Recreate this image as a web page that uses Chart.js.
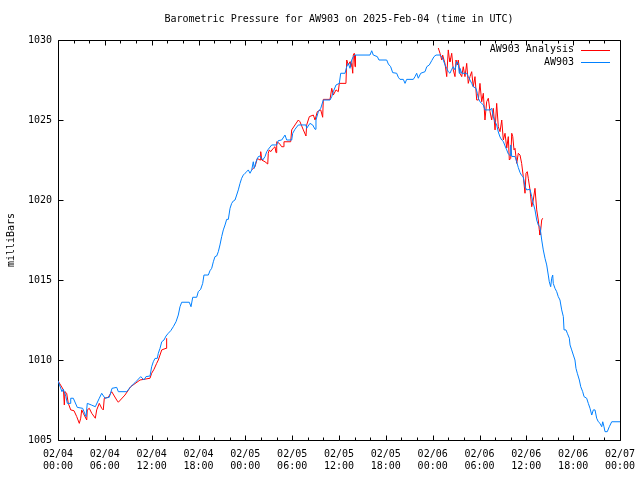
<!DOCTYPE html>
<html>
<head>
<meta charset="utf-8">
<script src="https://cdn.jsdelivr.net/npm/chart.js@4.4.1/dist/chart.umd.min.js"></script>
<style>
html,body{margin:0;padding:0;background:#fff;}
canvas{display:block;}
</style>
</head>
<body>
<canvas id="c" width="640" height="480"></canvas>
<script>
// ---- data (hours after 2025-02-04 00:00 UTC, pressure in mb) ----
const chartTitle = 'Barometric Pressure for AW903 on 2025-Feb-04 (time in UTC)';
const yAxisTitle = 'milliBars';
const seriesNames = ['AW903 Analysis', 'AW903'];

const xTickHours = [0, 6, 12, 18, 24, 30, 36, 42, 48, 54, 60, 66, 72];
const xTickDates = ['02/04','02/04','02/04','02/04','02/05','02/05','02/05','02/05','02/06','02/06','02/06','02/06','02/07'];
const xTickTimes = ['00:00','06:00','12:00','18:00','00:00','06:00','12:00','18:00','00:00','06:00','12:00','18:00','00:00'];
const yTickValues = [1005, 1010, 1015, 1020, 1025, 1030];

const aw903Hours = [
  0.00,0.51,0.68,1.02,1.19,1.54,1.63,1.96,2.47,3.16,
  3.59,3.75,4.27,4.78,5.29,5.60,6.02,6.57,6.92,7.52,
  7.73,8.80,9.31,9.86,10.60,11.02,11.27,11.79,12.00,12.21,
  12.43,12.72,12.85,13.07,13.29,13.58,13.84,14.13,14.44,14.77,
  15.12,15.41,15.63,15.85,16.82,17.04,17.26,17.77,17.97,18.28,
  18.54,18.70,19.26,19.47,19.69,19.90,20.11,20.33,20.54,20.75,
  20.97,21.18,21.40,21.61,21.82,22.04,22.25,22.46,22.68,22.89,
  23.10,23.32,23.53,23.74,23.96,24.18,24.38,24.60,24.82,25.02,
  25.15,25.37,25.66,25.88,26.23,26.52,26.74,26.94,27.38,28.02,
  28.22,28.66,29.08,29.30,29.94,30.07,30.36,30.79,31.77,31.86,
  32.28,32.63,32.93,33.05,33.35,33.66,33.99,34.85,35.07,35.27,
  35.62,36.04,36.22,36.77,36.99,37.19,37.41,37.63,37.83,38.05,
  39.97,40.19,40.39,40.91,41.12,42.11,42.32,42.62,42.88,43.39,
  43.60,43.81,44.24,44.46,44.67,45.52,45.74,45.95,46.16,46.47,
  47.02,47.24,47.57,47.88,48.17,48.43,48.94,49.16,49.36,49.58,
  49.80,50.00,50.22,50.44,50.64,50.86,51.08,51.28,51.41,51.50,
  51.72,52.36,52.56,52.78,53.00,53.20,53.55,53.72,53.85,54.06,
  54.28,54.49,54.70,55.35,55.56,55.77,55.99,56.20,56.41,56.63,
  56.85,57.05,57.27,57.49,57.69,57.91,58.00,58.13,58.55,58.77,
  58.97,59.19,59.40,59.61,59.83,60.05,60.47,60.69,60.89,61.11,
  61.33,61.53,61.75,61.97,62.17,62.39,62.61,62.81,62.94,63.12,
  63.25,63.38,63.45,63.67,63.89,64.09,64.31,64.53,64.74,64.83,
  65.08,65.25,65.51,65.60,65.81,66.02,66.23,66.36,66.53,66.79,
  66.97,67.22,67.39,67.73,67.94,68.16,68.38,68.58,68.80,69.01,
  69.22,69.44,69.66,69.79,69.95,70.08,70.37,70.63,70.94,72.00
];
const aw903Mb = [
  1008.70,1008.02,1008.17,1007.71,1007.29,1007.29,1007.61,1007.61,1007.04,1006.98,
  1006.46,1007.29,1007.19,1007.08,1007.61,1007.92,1007.61,1007.67,1008.23,1008.29,
  1008.02,1008.02,1008.33,1008.58,1008.96,1008.75,1008.96,1009.00,1009.58,1009.89,
  1010.10,1010.10,1010.42,1010.73,1011.14,1011.25,1011.50,1011.67,1011.83,1012.08,
  1012.39,1012.81,1013.33,1013.61,1013.61,1013.33,1013.92,1013.92,1014.27,1014.42,
  1014.79,1015.31,1015.31,1015.58,1015.73,1016.14,1016.46,1016.50,1016.77,1017.19,
  1017.71,1018.13,1018.44,1018.79,1018.79,1019.48,1019.79,1019.94,1020.00,1020.31,
  1020.63,1021.04,1021.36,1021.56,1021.67,1021.77,1021.88,1021.67,1021.88,1022.39,
  1021.98,1022.39,1022.71,1022.75,1022.50,1022.71,1023.02,1023.17,1023.44,1023.44,
  1023.71,1023.75,1024.06,1023.75,1023.75,1024.17,1024.42,1024.69,1024.69,1024.48,
  1024.79,1024.69,1024.42,1025.00,1025.52,1025.73,1026.25,1026.25,1026.46,1026.77,
  1027.19,1027.29,1027.92,1027.92,1028.33,1028.54,1028.23,1028.75,1028.96,1029.06,
  1029.06,1029.33,1029.06,1028.96,1028.75,1028.75,1028.50,1028.33,1027.96,1027.92,
  1027.67,1027.54,1027.54,1027.29,1027.54,1027.54,1027.71,1027.92,1027.61,1027.92,
  1028.02,1028.33,1028.44,1028.71,1028.96,1029.06,1029.06,1028.96,1028.75,1028.44,
  1028.23,1028.02,1027.92,1028.17,1028.33,1028.13,1028.64,1028.54,1027.92,1028.23,
  1027.92,1027.92,1027.71,1027.50,1027.29,1027.08,1026.98,1026.67,1026.36,1026.14,
  1026.04,1025.94,1025.63,1025.63,1025.73,1025.21,1024.89,1024.69,1024.25,1023.94,
  1023.75,1023.66,1023.38,1023.13,1022.88,1022.78,1023.44,1022.72,1022.72,1022.38,
  1022.03,1021.72,1021.53,1021.44,1020.83,1020.63,1020.67,1020.21,1019.79,1019.38,
  1018.75,1018.44,1018.33,1017.50,1016.88,1016.36,1015.94,1015.31,1014.89,1014.58,
  1015.11,1015.31,1014.79,1014.48,1014.27,1013.96,1013.75,1013.13,1012.71,1011.88,
  1011.88,1011.67,1011.36,1010.94,1010.63,1010.31,1010.00,1009.48,1009.17,1008.75,
  1008.33,1008.02,1007.71,1007.61,1007.29,1006.98,1006.56,1006.88,1006.88,1006.36,
  1006.14,1006.04,1005.83,1006.14,1005.83,1005.52,1005.52,1005.83,1006.14,1006.14
];

// analysis series: null marks a gap between analysis runs
const analysisHours = [
  0.00,0.70,0.81,0.90,1.11,1.32,1.63,2.05,2.40,2.73,
  2.91,3.04,3.24,3.68,3.75,4.01,4.32,4.78,4.96,5.29,
  5.60,5.80,5.93,6.44,6.88,7.52,7.73,8.58,9.31,10.51,
  11.79,12.00,12.30,12.64,12.85,13.29,13.84,13.92,
  19.00,
  24.82,25.24,25.53,25.88,25.97,26.10,26.52,26.87,26.94,27.07,
  27.25,27.58,27.80,27.93,28.02,28.35,28.66,28.86,28.95,29.81,
  29.94,30.36,30.79,31.00,31.22,31.43,31.77,31.86,32.20,32.71,
  32.93,33.22,33.66,33.91,33.99,34.85,35.07,35.27,35.62,35.91,
  36.04,36.89,36.99,37.19,37.41,37.50,37.63,37.76,37.83,37.96,
  38.05,38.11,
  43.00,
  48.72,48.94,49.16,49.28,49.45,49.58,49.80,50.00,50.13,50.22,
  50.44,50.64,50.86,50.99,51.16,51.28,51.50,51.72,51.92,52.14,
  52.36,52.56,52.78,53.00,53.20,53.42,53.64,53.85,54.06,54.28,
  54.49,54.70,54.92,55.13,55.35,55.56,55.77,55.99,56.20,56.41,
  56.63,56.85,57.05,57.27,57.49,57.69,57.82,58.00,58.13,58.26,
  58.42,58.55,58.77,58.97,59.19,59.40,59.61,59.83,59.96,60.12,
  60.25,60.47,60.69,60.89,61.11,61.33,61.53,61.66,61.75,61.84,
  61.97,62.10
];
const analysisMb = [
  1008.70,1008.13,1007.19,1008.02,1007.92,1007.29,1006.88,1006.83,1006.46,1006.04,
  1006.36,1006.88,1006.67,1006.25,1006.88,1006.98,1006.67,1006.36,1006.88,1007.29,
  1006.98,1006.88,1007.61,1007.67,1008.02,1007.50,1007.36,1007.81,1008.33,1008.75,
  1008.86,1009.17,1009.42,1009.79,1010.00,1010.63,1010.73,1011.36,
  null,
  1021.88,1022.08,1022.60,1022.50,1023.02,1022.50,1022.39,1022.25,1022.92,1023.13,
  1023.02,1023.23,1023.33,1022.96,1023.64,1023.54,1023.33,1023.33,1023.64,1023.64,
  1024.38,1024.69,1025.00,1024.89,1024.63,1024.38,1024.00,1024.69,1025.21,1025.31,
  1025.00,1025.52,1025.63,1025.17,1026.29,1026.29,1026.98,1026.56,1026.88,1026.77,
  1027.29,1027.29,1028.75,1028.44,1028.64,1028.33,1028.54,1027.92,1029.06,1029.17,
  1028.33,1029.06,
  null,
  1029.50,1029.17,1028.75,1029.06,1028.75,1028.54,1027.71,1029.38,1028.86,1028.64,
  1029.17,1028.13,1027.71,1028.75,1028.44,1028.75,1027.92,1027.71,1028.33,1027.71,
  1028.54,1027.29,1027.71,1028.02,1027.08,1027.71,1026.25,1026.25,1027.29,1026.14,
  1026.67,1025.00,1026.14,1026.36,1025.52,1025.00,1025.73,1024.38,1026.04,1024.58,
  1024.27,1025.00,1023.75,1024.17,1023.25,1023.96,1022.50,1022.60,1024.17,1023.96,
  1023.13,1023.23,1022.29,1022.92,1022.81,1022.29,1021.46,1020.42,1021.67,1021.77,
  1021.36,1020.63,1019.58,1020.00,1020.73,1019.38,1018.75,1018.13,1017.81,1018.13,
  1018.75,1018.86
];

const seriesColors = ['#ff0000', '#0080ff'];
const FONT = 'DejaVu Sans Mono';

// ---- plugins: gnuplot-style frame with inward ticks, and key ----
const frameTicks = {
  id: 'frameTicks',
  beforeDatasetsDraw(chart) {
    const {ctx, chartArea: a, scales: {x, y}} = chart;
    const L = Math.round(a.left) + 0.5, R = Math.round(a.right) + 0.5;
    const T = Math.round(a.top) + 0.5, B = Math.round(a.bottom) + 0.5;
    ctx.save();
    ctx.strokeStyle = '#000';
    ctx.lineWidth = 1;
    ctx.beginPath();
    ctx.rect(L, T, R - L, B - T);
    // x ticks: major each 6 h, minor each 2 h
    for (let h = x.min; h <= x.max; h += 2) {
      const px = Math.round(x.getPixelForValue(h)) + 0.5;
      const len = (h % 6 === 0) ? 5 : 3;
      ctx.moveTo(px, B); ctx.lineTo(px, B - len);
      ctx.moveTo(px, T); ctx.lineTo(px, T + len);
    }
    yTickValues.forEach(v => {
      const py = Math.round(y.getPixelForValue(v)) + 0.5;
      ctx.moveTo(L, py); ctx.lineTo(L + 5, py);
      ctx.moveTo(R, py); ctx.lineTo(R - 5, py);
    });
    ctx.stroke();
    ctx.restore();
  }
};

const gnuKey = {
  id: 'gnuKey',
  afterDatasetsDraw(chart) {
    const {ctx} = chart;
    const textRight = 574, lineX0 = 581, lineX1 = 610, y0 = 49.5, dy = 12.6;
    ctx.save();
    ctx.font = '10px "' + FONT + '"';
    ctx.textAlign = 'right';
    ctx.textBaseline = 'middle';
    ctx.fillStyle = '#000';
    seriesNames.forEach((name, i) => {
      const yy = y0 + i * dy;
      ctx.fillText(name, textRight, yy);
      ctx.strokeStyle = seriesColors[i];
      ctx.lineWidth = 1;
      ctx.beginPath();
      ctx.moveTo(lineX0, Math.round(yy) + 0.5);
      ctx.lineTo(lineX1, Math.round(yy) + 0.5);
      ctx.stroke();
    });
    ctx.restore();
  }
};

const analysisData = analysisHours.map((h, i) => ({x: h, y: analysisMb[i]}));
const aw903Data = aw903Hours.map((h, i) => ({x: h, y: aw903Mb[i]}));

new Chart(document.getElementById('c'), {
  type: 'line',
  data: {
    datasets: [
      {label: seriesNames[0], data: analysisData, borderColor: seriesColors[0], borderWidth: 1,
       pointRadius: 0, tension: 0, spanGaps: false, fill: false, order: 1},
      {label: seriesNames[1], data: aw903Data, borderColor: seriesColors[1], borderWidth: 1,
       pointRadius: 0, tension: 0, fill: false, order: 0}
    ]
  },
  options: {
    responsive: false,
    animation: false,
    devicePixelRatio: 1,
    layout: {padding: {left: 0, right: 20, top: 0, bottom: 0}},
    plugins: {
      legend: {display: false},
      tooltip: {enabled: false},
      title: {
        display: true, text: chartTitle, fullSize: false, color: '#000',
        font: {family: FONT, size: 10, weight: 'normal'},
        padding: {top: 13, bottom: 15}
      }
    },
    scales: {
      x: {
        type: 'linear', min: 0, max: 72,
        grid: {display: false, drawTicks: false},
        border: {display: false},
        afterBuildTicks(scale) { scale.ticks = xTickHours.map(v => ({value: v})); },
        ticks: {
          autoSkip: false, maxRotation: 0, minRotation: 0, padding: 8, color: '#000',
          font: {family: FONT, size: 10, lineHeight: 1.25},
          callback(v) { const i = xTickHours.indexOf(v); return i < 0 ? '' : [xTickDates[i], xTickTimes[i]]; }
        },
        afterFit(scale) { scale.height = 40; scale.paddingLeft = 0; scale.paddingRight = 0; }
      },
      y: {
        min: 1005, max: 1030,
        grid: {display: false, drawTicks: false},
        border: {display: false},
        afterBuildTicks(scale) { scale.ticks = yTickValues.map(v => ({value: v})); },
        ticks: {padding: 6, color: '#000', font: {family: FONT, size: 10},
                callback(v) { return String(v); }},
        title: {display: true, text: yAxisTitle, color: '#000',
                font: {family: FONT, size: 10}, padding: {top: 5, bottom: 0}},
        afterFit(scale) { scale.width = 58; scale.paddingTop = 0; scale.paddingBottom = 0; }
      }
    }
  },
  plugins: [frameTicks, gnuKey]
});
</script>
</body>
</html>
